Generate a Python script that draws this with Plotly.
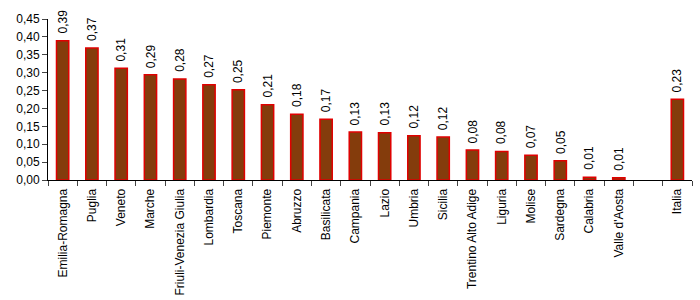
import plotly.graph_objects as go

regions = ["Emilia-Romagna", "Puglia", "Veneto", "Marche", "Friuli-Venezia Giulia",
           "Lombardia", "Toscana", "Piemonte", "Abruzzo", "Basilicata", "Campania",
           "Lazio", "Umbria", "Sicilia", "Trentino Alto Adige", "Liguria", "Molise",
           "Sardegna", "Calabria", "Valle d'Aosta", " ", "Italia"]
values = [0.389, 0.369, 0.312, 0.294, 0.282, 0.266, 0.252, 0.210, 0.184, 0.170,
          0.134, 0.132, 0.124, 0.120, 0.084, 0.080, 0.069, 0.054, 0.008, 0.006,
          None, 0.226]
y_ticks = [0, 0.05, 0.10, 0.15, 0.20, 0.25, 0.30, 0.35, 0.40, 0.45]

fig = go.Figure(go.Bar(
    x=regions, y=values,
    marker=dict(color="#843C0C", line=dict(color="#E00000", width=1.5)),
    cliponaxis=False, hoverinfo="x+y",
))

for r, v in zip(regions, values):
    if v is None:
        continue
    fig.add_annotation(
        x=r, y=v, text=f"{v:.2f}".replace(".", ","), textangle=-90,
        showarrow=False, yanchor="bottom", xanchor="center", yshift=5,
        font=dict(size=12, color="black"),
    )

fig.update_layout(
    width=700, height=300, separators=",.",
    margin=dict(l=48, r=8, t=19, b=120),
    plot_bgcolor="white", paper_bgcolor="white",
    font=dict(family="Liberation Sans, Arial", size=12, color="black"),
    bargap=0.58, showlegend=False,
    xaxis=dict(tickangle=-90, ticks="outside", tickson="boundaries", ticklen=5,
               ticklabelstandoff=3,
               showline=True, linecolor="black", linewidth=1, showgrid=False,
               tickfont=dict(size=12), automargin=False),
    yaxis=dict(range=[0, 0.45], tickvals=y_ticks, tickformat=".2f", ticks="outside",
               ticklen=5, showline=True, linecolor="black", linewidth=1,
               showgrid=False, zeroline=False, tickfont=dict(size=12),
               automargin=False),
)
fig.write_html("out.html")
